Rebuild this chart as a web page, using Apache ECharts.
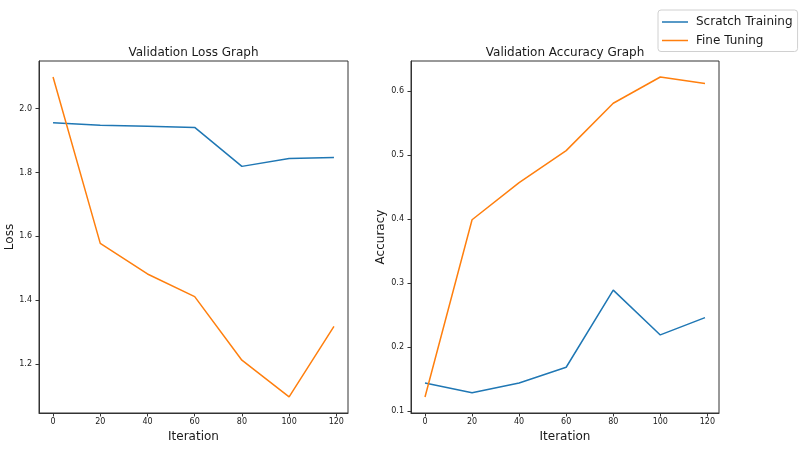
<!DOCTYPE html>
<html>
<head>
<meta charset="utf-8">
<script src="https://cdn.jsdelivr.net/npm/echarts@6/dist/echarts.min.js"></script>
<style>html,body{margin:0;padding:0;background:#fff}#c{width:806px;height:456px}</style>
</head>
<body>
<div id="c"></div>
<script>
var iterations = [0, 20, 40, 60, 80, 100, 119];
var lossScratch = [1.956, 1.948, 1.945, 1.941, 1.819, 1.844, 1.847];
var lossFine = [2.099, 1.578, 1.482, 1.411, 1.212, 1.097, 1.318];
var accScratch = [0.144, 0.1285, 0.144, 0.1685, 0.289, 0.219, 0.246];
var accFine = [0.122, 0.399, 0.457, 0.507, 0.581, 0.622, 0.612];
var xTicks = [0, 20, 40, 60, 80, 100, 120];
var lossTicks = [1.2, 1.4, 1.6, 1.8, 2.0];
var accTicks = [0.1, 0.2, 0.3, 0.4, 0.5, 0.6];
var seriesNames = ['Scratch Training', 'Fine Tuning'];
var titles = ['Validation Loss Graph', 'Validation Accuracy Graph'];
var yNames = ['Loss', 'Accuracy'];
var xName = 'Iteration';

function pairs(xs, ys) { return xs.map(function (x, i) { return [x, ys[i]]; }); }

var FONT = 'DejaVu Sans';
var TXT = '#1a1a1a';
var BLUE = '#1f77b4', ORANGE = '#ff7f0e';

function xAxisCfg(gi) {
  return {
    type: 'value', gridIndex: gi, min: -5.95, max: 124.95,
    name: xName, nameLocation: 'middle', nameGap: 17,
    nameTextStyle: { fontFamily: FONT, fontSize: 12, color: TXT },
    axisLine: { show: true, onZero: false, lineStyle: { color: '#333', width: 1 } },
    axisTick: { show: true, length: 3.5, lineStyle: { color: '#333' }, customValues: xTicks },
    axisLabel: { fontFamily: FONT, fontSize: 8, color: TXT, margin: 5, customValues: xTicks },
    splitLine: { show: false }
  };
}
function yAxisCfg(gi, mn, mx, ticks, gap, name) {
  return {
    type: 'value', gridIndex: gi, min: mn, max: mx,
    name: name, nameLocation: 'middle', nameGap: gap,
    nameTextStyle: { fontFamily: FONT, fontSize: 12, color: TXT },
    axisLine: { show: true, onZero: false, lineStyle: { color: '#333', width: 1 } },
    axisTick: { show: true, length: 3.5, lineStyle: { color: '#333' }, customValues: ticks },
    axisLabel: { fontFamily: FONT, fontSize: 8, color: TXT, margin: 7, customValues: ticks,
      formatter: function (v) { return v.toFixed(1); } },
    splitLine: { show: false }
  };
}
function lineSeries(name, xi, data, color) {
  return {
    name: name, type: 'line', xAxisIndex: xi, yAxisIndex: xi, data: data,
    symbol: 'none', smooth: false, color: color,
    lineStyle: { color: color, width: 1.5 }, silent: true, animation: false
  };
}

var chart = echarts.init(document.getElementById('c'), null, { renderer: 'canvas' });
chart.setOption({
  animation: false,
  backgroundColor: '#fff',
  title: [
    { text: titles[0], left: 193.5, top: 47, padding: 0, textAlign: 'center',
      textStyle: { fontFamily: FONT, fontSize: 12, fontWeight: 'normal', color: TXT } },
    { text: titles[1], left: 565, top: 47, padding: 0, textAlign: 'center',
      textStyle: { fontFamily: FONT, fontSize: 12, fontWeight: 'normal', color: TXT } }
  ],
  legend: {
    data: seriesNames, orient: 'vertical', left: 658, top: 10,
    padding: [5, 5, 4, 4], icon: 'rect', itemWidth: 26, itemHeight: 1.5, itemGap: 4.5,
    borderColor: '#d0d0d0', borderWidth: 1, borderRadius: 3,
    textStyle: { fontFamily: FONT, fontSize: 12, color: TXT, lineHeight: 14, height: 14, padding: [0, 0, 0, 3] },
    selectedMode: false
  },
  grid: [
    { left: 39, top: 61, width: 309, height: 352, show: true, borderColor: '#333', borderWidth: 1, backgroundColor: 'transparent' },
    { left: 411, top: 61, width: 308, height: 352, show: true, borderColor: '#333', borderWidth: 1, backgroundColor: 'transparent' }
  ],
  xAxis: [xAxisCfg(0), xAxisCfg(1)],
  yAxis: [
    yAxisCfg(0, 1.0467, 2.149, lossTicks, 22, yNames[0]),
    yAxisCfg(1, 0.097, 0.647, accTicks, 24, yNames[1])
  ],
  series: [
    lineSeries(seriesNames[0], 0, pairs(iterations, lossScratch), BLUE),
    lineSeries(seriesNames[1], 0, pairs(iterations, lossFine), ORANGE),
    lineSeries(seriesNames[0], 1, pairs(iterations, accScratch), BLUE),
    lineSeries(seriesNames[1], 1, pairs(iterations, accFine), ORANGE)
  ]
});
</script>
</body>
</html>
